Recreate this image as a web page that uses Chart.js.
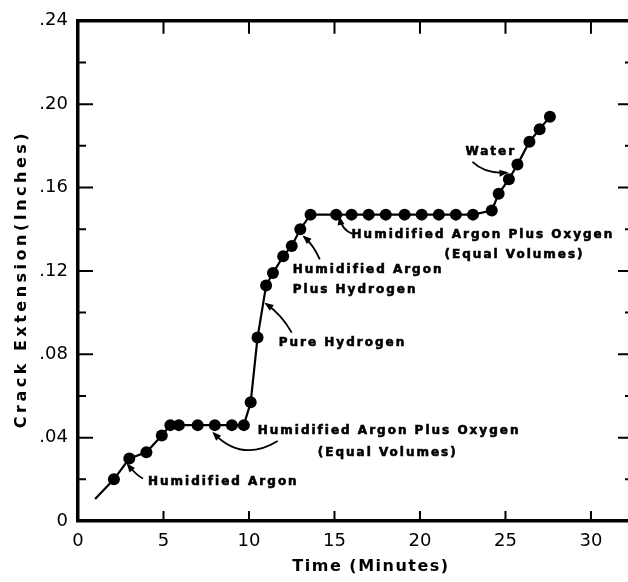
<!DOCTYPE html>
<html>
<head>
<meta charset="utf-8">
<script src="https://cdn.jsdelivr.net/npm/chart.js@4.4.0/dist/chart.umd.min.js"></script>
<style>
  html, body { margin: 0; padding: 0; background: #fff; overflow: hidden; }
  #wrap { width: 628px; height: 582px; overflow: hidden; }
</style>
</head>
<body>
<div id="wrap"><canvas id="chart" width="640" height="582"></canvas></div>
<script>
// crack extension readings, minutes vs inches (first entry is where the line starts, no marker)
const times = [1.0, 2.1, 3.0, 4.0, 4.9, 5.4, 5.9, 7.0, 8.0, 9.0, 9.7, 10.1, 10.5, 11.0, 11.4, 12.0, 12.5, 13.0,
    13.6, 15.1, 16.0, 17.0, 18.0, 19.1, 20.1, 21.1, 22.1, 23.1, 24.2, 24.6, 25.2, 25.7, 26.4, 27.0, 27.6]
const extension = [0.0105, 0.020, 0.030, 0.033, 0.041, 0.046, 0.046, 0.046, 0.046, 0.046, 0.046, 0.057, 0.088, 0.113, 0.119, 0.127, 0.132, 0.140,
    0.147, 0.147, 0.147, 0.147, 0.147, 0.147, 0.147, 0.147, 0.147, 0.147, 0.149, 0.157, 0.164, 0.171, 0.182, 0.188, 0.194]

const xTicks = [0, 5, 10, 15, 20, 25, 30]
const yTicks = [0, 0.04, 0.08, 0.12, 0.16, 0.20, 0.24]
const yTickLabels = ['0', '.04', '.08', '.12', '.16', '.20', '.24']

const xTitle = 'Time (Minutes)'
const yTitle = 'Crack Extension(Inches)'

// environment labels with their leader arrows (all in data units)
const notes = [
    { lines: [['Humidified Argon', 4.09, 0.0189]], from: [3.8, 0.0204], ctrl: [3.4, 0.022], tip: [2.92, 0.027] },
    { lines: [['Humidified Argon Plus Oxygen', 10.51, 0.0431], ['(Equal Volumes)', 14.02, 0.0327]],
        from: [11.68, 0.0384], ctrl: [9.6, 0.028], tip: [7.94, 0.0421] },
    { lines: [['Pure Hydrogen', 11.74, 0.0857]], from: [12.5, 0.0904], ctrl: [11.9, 0.099], tip: [11.0, 0.1042] },
    { lines: [['Humidified Argon', 12.56, 0.1207], ['Plus Hydrogen', 12.56, 0.1108]],
        from: [14.14, 0.1255], ctrl: [13.8, 0.1321], tip: [13.22, 0.1364] },
    { lines: [['Humidified Argon Plus Oxygen', 16.0, 0.1373], ['(Equal Volumes)', 21.44, 0.1278]],
        from: [16.06, 0.1378], ctrl: [15.45, 0.1395], tip: [15.3, 0.1454] },
    { lines: [['Water', 22.66, 0.1771]], from: [23.07, 0.1723], ctrl: [23.8, 0.1665], tip: [25.06, 0.1671] },
]

const FONT = '"DejaVu Sans", sans-serif'

const radii = times.map(function (t, i) {
    return i === 0 ? 0 : 6
})

// frame on top/right, inward tick marks, axis titles and the labels
const frameAndNotes = {
    id: 'frameAndNotes',
    afterDraw(chart) {
        const ctx = chart.ctx
        const area = chart.chartArea
        const xs = chart.scales.x
        const ys = chart.scales.y
        ctx.save()
        ctx.strokeStyle = '#000'
        ctx.fillStyle = '#000'
        ctx.lineCap = 'butt'

        ctx.lineWidth = 3.5
        ctx.beginPath()
        ctx.moveTo(area.left - 1.5, area.top)
        ctx.lineTo(area.right, area.top)
        ctx.moveTo(area.right, area.top)
        ctx.lineTo(area.right, area.bottom)
        ctx.stroke()

        ctx.lineWidth = 2
        ctx.beginPath()
        xTicks.forEach(function (v) {
            if (v === 0) return
            const px = xs.getPixelForValue(v)
            ctx.moveTo(px, area.bottom)
            ctx.lineTo(px, area.bottom - 10)
            ctx.moveTo(px, area.top)
            ctx.lineTo(px, area.top + 13)
        })
        for (let i = 0; i < yTicks.length; i++) {
            const py = ys.getPixelForValue(yTicks[i])
            if (i > 0 && i < yTicks.length - 1) {
                ctx.moveTo(area.left, py)
                ctx.lineTo(area.left + 15, py)
                ctx.moveTo(area.right, py)
                ctx.lineTo(area.right - 14, py)
            }
            if (i < yTicks.length - 1) {
                const mid = ys.getPixelForValue((yTicks[i] + yTicks[i + 1]) / 2)
                ctx.moveTo(area.left, mid)
                ctx.lineTo(area.left + 8, mid)
                ctx.moveTo(area.right, mid)
                ctx.lineTo(area.right - 7, mid)
            }
        }
        ctx.stroke()

        // axis titles
        ctx.letterSpacing = '1.5px'
        ctx.font = 'bold 16px ' + FONT
        ctx.textAlign = 'center'
        ctx.textBaseline = 'middle'
        ctx.fillText(xTitle, 371, 567)
        ctx.save()
        ctx.translate(22, 279)
        ctx.rotate(-Math.PI / 2)
        ctx.letterSpacing = '3.5px'
        ctx.fillText(yTitle, 0, 0)
        ctx.restore()

        // labels and leaders
        ctx.letterSpacing = '2px'
        ctx.font = 'bold 12px ' + FONT
        ctx.textAlign = 'left'
        notes.forEach(function (n) {
            ctx.lineWidth = 0.6
            n.lines.forEach(function (l) {
                const lx = xs.getPixelForValue(l[1])
                const ly = ys.getPixelForValue(l[2])
                ctx.fillText(l[0], lx, ly)
                ctx.strokeText(l[0], lx, ly)
            })
            const f = [xs.getPixelForValue(n.from[0]), ys.getPixelForValue(n.from[1])]
            const c = [xs.getPixelForValue(n.ctrl[0]), ys.getPixelForValue(n.ctrl[1])]
            const t = [xs.getPixelForValue(n.tip[0]), ys.getPixelForValue(n.tip[1])]
            ctx.lineWidth = 1.8
            ctx.beginPath()
            ctx.moveTo(f[0], f[1])
            ctx.quadraticCurveTo(c[0], c[1], t[0], t[1])
            ctx.stroke()
            const ang = Math.atan2(t[1] - c[1], t[0] - c[0])
            ctx.beginPath()
            ctx.moveTo(t[0] + Math.cos(ang) * 2, t[1] + Math.sin(ang) * 2)
            ctx.lineTo(t[0] - Math.cos(ang) * 7 - Math.sin(ang) * 3.5, t[1] - Math.sin(ang) * 7 + Math.cos(ang) * 3.5)
            ctx.lineTo(t[0] - Math.cos(ang) * 7 + Math.sin(ang) * 3.5, t[1] - Math.sin(ang) * 7 - Math.cos(ang) * 3.5)
            ctx.closePath()
            ctx.fill()
        })
        ctx.restore()
    }
}

const chartContainer = document.getElementById('chart')

const myChart = new Chart(chartContainer, {
    type: 'scatter',
    data: {
        datasets: [{
            data: times.map(function (t, i) {
                return { x: t, y: extension[i] }
            }),
            showLine: true,
            borderColor: '#000',
            borderWidth: 2.2,
            pointRadius: radii,
            pointBackgroundColor: '#000',
            pointBorderColor: '#000',
            pointBorderWidth: 0,
        }]
    },
    options: {
        responsive: false,
        animation: false,
        events: [],
        layout: {
            padding: { left: 0, top: 14, right: 8, bottom: 0 }
        },
        plugins: {
            legend: { display: false },
            tooltip: { enabled: false },
        },
        scales: {
            x: {
                type: 'linear',
                min: 0,
                max: 32.4,
                afterFit: function (scale) { scale.height = 61 },
                afterBuildTicks: function (scale) {
                    scale.ticks = xTicks.map(function (v) { return { value: v } })
                },
                ticks: {
                    color: '#000',
                    padding: 10,
                    maxRotation: 0,
                    autoSkip: false,
                    font: { family: FONT, size: 18 },
                    callback: function (value) { return String(value) }
                },
                grid: { display: false, drawTicks: false },
                border: { display: true, color: '#000', width: 3.5 }
            },
            y: {
                min: 0,
                max: 0.24,
                afterFit: function (scale) { scale.width = 78 },
                afterBuildTicks: function (scale) {
                    scale.ticks = yTicks.map(function (v) { return { value: v } })
                },
                ticks: {
                    color: '#000',
                    padding: 10,
                    autoSkip: false,
                    font: { family: FONT, size: 18 },
                    callback: function (value, index) { return yTickLabels[index] }
                },
                grid: { display: false, drawTicks: false },
                border: { display: true, color: '#000', width: 3.5 }
            }
        }
    },
    plugins: [frameAndNotes]
})
</script>
</body>
</html>
